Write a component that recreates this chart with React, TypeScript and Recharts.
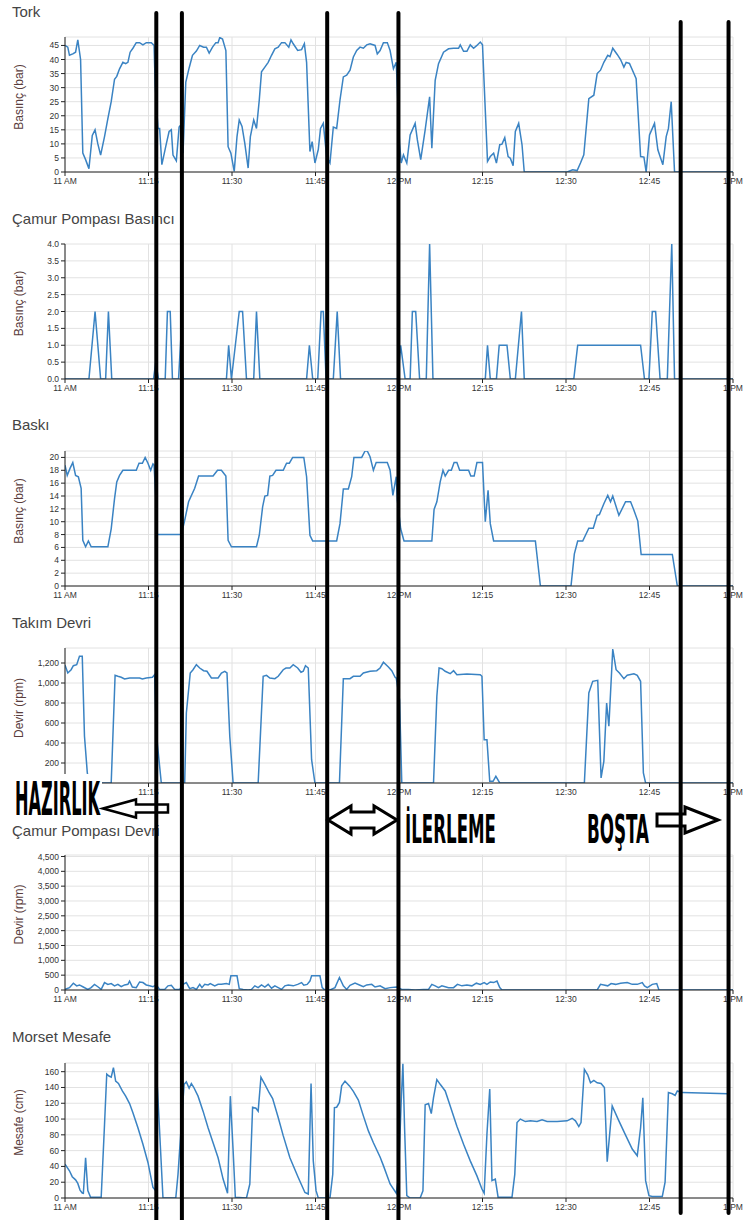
import { LineChart, Line, XAxis, YAxis, CartesianGrid } from "recharts";

// x axis: minutes after 11:00
const TIME_TICKS = [0, 15, 30, 45, 60, 75, 90, 105, 120];
const TIME_LABELS = ["11 AM", "11:15", "11:30", "11:45", "12 PM", "12:15", "12:30", "12:45", "1 PM"];

// phase boundaries drawn over the charts (minutes after 11:00)
const PHASE_LINES = [16.4, 21.0, 47.1, 59.9, 110.6, 119.2];

// [minute, value]
const TORK: [number, number][] = [
  [0, 45], [0.5, 44.4], [0.8, 41.5], [1.4, 42], [1.9, 42.6], [2.3, 47], [2.8, 40], [3.2, 6.7], [3.7, 4.4], [4.3, 1.2],
  [4.9, 13], [5.4, 15], [5.9, 10], [6.4, 6], [7.1, 12.6], [7.7, 19], [8.3, 25], [8.9, 33], [9.3, 34], [9.8, 36.7],
  [10.4, 39], [10.9, 38.5], [11.3, 39], [11.7, 42.6], [12.2, 44], [12.8, 46], [13.4, 46], [14.0, 45.2], [14.6, 46],
  [15.5, 46], [16.0, 45], [16.2, 31], [16.7, 15.5], [17.0, 15.5], [17.4, 2.6], [18.2, 10], [18.7, 14.4], [19.1, 15],
  [19.4, 6], [20.0, 4], [20.5, 16], [20.9, 17], [21.2, 6.7], [21.7, 32], [22.3, 37], [22.9, 41.5], [23.6, 43],
  [24.2, 45], [24.9, 44.4], [25.4, 44.4], [25.9, 42.3], [26.5, 44.4], [27.1, 46], [27.5, 46], [27.8, 47.8],
  [28.3, 47.3], [28.9, 43.2], [29.3, 9], [29.8, 6.7], [30.4, 0.2], [30.9, 12.6], [31.3, 18.5], [31.8, 16.2],
  [32.3, 10.2], [32.9, 1.4], [33.3, 12.6], [33.9, 18.5], [34.4, 15.5], [34.9, 25.6], [35.3, 35.6], [35.9, 37.3],
  [36.5, 39], [37.1, 41.5], [37.7, 43.8], [38.3, 44.4], [38.9, 46], [39.5, 46], [40.2, 44.4], [40.6, 47], [41.0, 45.6],
  [41.8, 43.2], [42.5, 43.5], [43.0, 45.6], [43.4, 39], [44.0, 7.3], [44.4, 10.8], [44.9, 3.2], [45.5, 8], [45.9, 15.5],
  [46.4, 17.3], [47.0, 5.5], [47.6, 3.2], [48.2, 16], [48.8, 15.5], [49.4, 25.6], [50.0, 33.8], [50.6, 34.4],
  [51.2, 36.2], [51.8, 40.9], [52.4, 43.2], [53.0, 44.4], [53.6, 44], [54.2, 45.2], [54.8, 45.6], [55.7, 45],
  [56.1, 42], [56.6, 43.2], [57.2, 46], [57.9, 46], [58.4, 43.2], [59.0, 36.7], [59.5, 39], [59.6, 34.4], [60.1, 10.2],
  [60.4, 3.2], [60.8, 6.1], [61.4, 3.2], [62.0, 13.2], [62.9, 17.3], [63.3, 11.4], [63.9, 4.4], [64.7, 15], [65.5, 26.7],
  [65.9, 8.5], [66.5, 32.6], [67.1, 38.5], [68.0, 42.6], [68.9, 43.8], [69.8, 44], [70.7, 44], [71.0, 45.2],
  [71.6, 42.9], [72.2, 42.9], [72.8, 45.2], [73.4, 44], [74.0, 45], [74.6, 46.2], [75.0, 45.2], [75.5, 22], [75.9, 3.8],
  [76.4, 5.5], [77.0, 6.7], [77.5, 3.2], [78.1, 9.7], [78.5, 9.9], [79.0, 12.2], [79.6, 5.5], [80.0, 4.9], [80.5, 2.2],
  [80.9, 14.4], [81.5, 17.3], [82.1, 9.7], [82.5, 0], [90.2, 0], [91.2, 0.8], [92.0, 0.5], [92.6, 3.2], [93.2, 6.1],
  [94.1, 26.1], [95.0, 27.3], [95.6, 35], [96.2, 36.2], [96.8, 39], [97.5, 41.5], [97.9, 41], [98.4, 44], [99.2, 41.8],
  [99.8, 40], [100.4, 37.3], [100.8, 39], [101.4, 38.6], [102.2, 35], [102.6, 33.2], [103.4, 5.5], [104.0, 5.3],
  [104.4, 0], [105.0, 13.2], [105.9, 17.3], [106.5, 7.9], [106.9, 5.5], [107.4, 2.6], [108.0, 12.6], [108.4, 15.5],
  [108.9, 25], [109.5, 0], [120, 0],
];

const CAMUR_BASINC: [number, number][] = [
  [0, 0], [4.3, 0], [5.4, 2], [6.4, 0], [7.3, 0], [7.8, 2], [8.4, 0], [15.9, 0], [16.3, 0.5], [16.8, 0], [18.0, 0],
  [18.4, 2], [18.9, 2], [19.3, 0], [20.4, 0], [20.8, 1.2], [21.2, 0], [29.0, 0], [29.4, 1], [29.9, 0], [31.3, 2],
  [31.9, 2], [32.6, 0], [33.9, 0], [34.4, 2], [35.0, 0], [43.4, 0], [43.9, 1], [44.5, 0], [45.4, 0], [46.0, 2],
  [46.4, 2], [46.9, 0], [48.2, 0], [48.9, 2], [49.5, 0], [59.8, 0], [60.3, 1], [61.1, 0], [62.0, 0], [62.4, 2],
  [63.0, 2], [63.7, 0], [64.9, 0], [65.5, 4], [66.1, 0], [75.5, 0], [75.9, 1], [76.4, 0], [77.5, 0], [78.0, 1],
  [79.4, 1], [80.0, 0], [80.9, 0], [82.0, 2], [82.5, 0], [91.4, 0], [92.1, 1], [103.4, 1], [104.1, 0], [104.9, 0],
  [105.5, 2], [106.1, 2], [106.9, 0], [108.2, 0], [109.0, 4], [109.5, 0], [120, 0],
];

const BASKI: [number, number][] = [
  [0, 18.8], [0.4, 17.2], [0.9, 18.3], [1.4, 19.2], [1.9, 17.2], [2.4, 17], [2.9, 15.2], [3.2, 7.1], [3.7, 6.1],
  [4.2, 7], [4.7, 6.1], [7.7, 6.1], [8.3, 8.9], [8.9, 13.6], [9.3, 16.2], [9.8, 17.2], [10.4, 18], [12.8, 18],
  [13.3, 19.1], [13.9, 19.1], [14.4, 20], [14.9, 19.1], [15.4, 18], [15.8, 19], [16.0, 18.8], [16.3, 13.9], [16.5, 8],
  [20.9, 8], [21.5, 10.2], [22.2, 13.1], [23.3, 15.2], [24.0, 17.1], [26.6, 17.1], [27.4, 18], [28.1, 18], [28.9, 17.1],
  [29.3, 7.1], [29.9, 6.1], [34.4, 6.1], [34.9, 7.9], [35.5, 12.3], [35.9, 14], [36.4, 14.1], [36.8, 17.1],
  [37.3, 17.2], [37.9, 18], [39.2, 18], [39.8, 19.1], [40.3, 19.1], [40.9, 20], [42.9, 20], [43.4, 17], [44.0, 7.9],
  [44.5, 7], [48.8, 7], [49.4, 9.7], [50.0, 15.1], [50.9, 15.1], [51.5, 17], [51.9, 20], [53.3, 20], [53.9, 21],
  [54.3, 21], [54.8, 20.1], [55.4, 18], [55.9, 19.2], [57.9, 19.2], [58.4, 18], [58.9, 14.1], [59.5, 17], [59.7, 13.4],
  [60.3, 8.9], [60.9, 7], [65.9, 7], [66.3, 11.9], [66.8, 13.1], [67.4, 16.2], [67.9, 18], [68.3, 17.1], [68.9, 18],
  [69.4, 18], [69.9, 19.2], [70.4, 19.2], [70.9, 18], [72.5, 18], [72.9, 17.1], [73.5, 17.1], [74.0, 19.2],
  [75.0, 19.2], [75.5, 10], [76.0, 14.9], [76.4, 9.7], [77.0, 7], [84.5, 7], [85.4, 0], [90.9, 0], [91.5, 5],
  [92.1, 7], [93.0, 7], [94.1, 9], [94.9, 9], [95.6, 11], [96.0, 11.1], [96.8, 12.8], [97.5, 14.1], [98.0, 13.1],
  [98.4, 14], [99.5, 11], [100.7, 13.1], [101.6, 13.1], [102.2, 11.8], [102.9, 10.1], [103.5, 4.9], [109.1, 4.9],
  [110.0, 0], [120, 0],
];

const TAKIM_DEVRI: [number, number][] = [
  [0, 1180], [0.5, 1100], [1.1, 1133], [1.5, 1173], [2.1, 1183], [2.6, 1267], [3.1, 1267], [3.5, 467], [4.0, 107],
  [4.3, 0], [8.3, 0], [9.0, 1077], [9.5, 1067], [10.1, 1057], [10.7, 1040], [11.6, 1050], [13.4, 1050], [13.9, 1040],
  [14.6, 1050], [15.7, 1057], [16.1, 1083], [16.4, 500], [17.3, 0], [21.5, 0], [21.8, 700], [22.5, 1100], [23.0, 1133],
  [23.6, 1183], [24.2, 1150], [24.9, 1123], [25.5, 1117], [26.3, 1050], [27.5, 1050], [28.1, 1100], [28.7, 1117],
  [29.1, 1100], [29.6, 467], [30.2, 0], [34.7, 0], [35.6, 1067], [36.2, 1077], [36.8, 1050], [37.7, 1043], [38.3, 1067],
  [39.2, 1133], [39.7, 1150], [40.4, 1150], [41.0, 1183], [41.8, 1150], [42.4, 1107], [42.8, 1117], [43.2, 1173],
  [43.7, 1150], [44.3, 233], [44.9, 0], [49.3, 0], [50.0, 1043], [51.2, 1043], [51.8, 1067], [53.0, 1067],
  [53.6, 1100], [54.8, 1117], [56.0, 1123], [56.6, 1150], [57.2, 1207], [58.1, 1160], [58.7, 1123], [59.3, 1057],
  [59.5, 1050], [60.1, 833], [60.5, 0], [66.2, 0], [66.8, 867], [67.2, 1150], [67.7, 1143], [68.3, 1117], [69.2, 1093],
  [69.8, 1123], [70.4, 1083], [72.2, 1090], [74.6, 1083], [74.9, 1067], [75.3, 433], [75.8, 433], [76.3, 17],
  [76.9, 17], [77.4, 67], [78.1, 0], [93.3, 0], [94.1, 900], [94.8, 1017], [95.7, 1027], [96.3, 50], [96.8, 217],
  [97.3, 800], [97.7, 567], [98.4, 1340], [99.0, 1133], [99.6, 1100], [100.4, 1043], [101.0, 1077], [102.2, 1093],
  [102.8, 1077], [103.4, 1017], [103.9, 100], [104.3, 0], [120, 0],
];

const CAMUR_DEVRI: [number, number][] = [
  [0, 20], [0.8, 80], [1.5, 230], [2.1, 140], [2.6, 170], [3.2, 110], [4.1, 20], [4.7, 80], [5.3, 190], [5.9, 110],
  [6.5, 20], [7.1, 250], [7.7, 190], [8.3, 215], [8.9, 140], [9.5, 190], [10.1, 110], [10.7, 170], [11.3, 190],
  [11.6, 300], [12.1, 100], [12.8, 80], [13.4, 270], [14.0, 250], [14.6, 170], [15.2, 140], [15.8, 110], [16.4, 170],
  [17.0, 20], [17.9, 20], [18.5, 140], [19.1, 160], [19.7, 20], [20.6, 20], [21.2, 190], [21.8, 250], [22.4, 45],
  [23.0, 80], [23.6, 20], [24.2, 190], [24.6, 80], [25.1, 190], [25.7, 170], [26.1, 215], [26.9, 140], [27.5, 190],
  [28.1, 190], [29.0, 215], [29.5, 190], [29.8, 480], [30.9, 480], [31.3, 45], [32.0, 20], [32.9, 0], [33.5, 20],
  [34.1, 140], [34.7, 80], [35.3, 170], [35.9, 100], [36.5, 190], [37.1, 60], [37.7, 140], [38.3, 80], [38.9, 20],
  [39.5, 140], [40.1, 170], [41.0, 140], [41.8, 190], [42.5, 250], [42.9, 160], [43.5, 190], [44.0, 300], [44.3, 480],
  [45.8, 480], [46.2, 80], [46.7, 0], [47.6, 0], [48.5, 80], [49.3, 420], [50.0, 140], [50.6, 20], [51.2, 160],
  [52.1, 230], [53.0, 160], [53.6, 110], [54.2, 170], [55.1, 190], [55.7, 100], [56.6, 140], [57.5, 45], [58.4, 80],
  [59.6, 100], [60.5, 20], [61.7, 20], [62.9, 0], [64.4, 20], [65.3, 20], [65.9, 190], [66.5, 140], [67.1, 80],
  [67.7, 140], [68.3, 110], [68.9, 80], [69.8, 80], [70.5, 190], [71.3, 140], [72.2, 170], [73.1, 140], [73.9, 230],
  [74.6, 190], [75.3, 250], [75.8, 190], [76.4, 270], [77.0, 250], [77.6, 300], [78.1, 80], [78.5, 0], [95.6, 0],
  [96.2, 190], [96.8, 170], [97.5, 140], [98.1, 215], [98.9, 190], [99.8, 230], [101.0, 250], [101.9, 190],
  [102.8, 190], [103.7, 250], [104.1, 140], [104.6, 80], [105.5, 190], [106.3, 215], [106.7, 0], [120, 0],
];

const MORSET: [number, number][] = [
  [0, 43], [0.8, 34.5], [1.3, 27], [1.9, 23], [2.3, 18.5], [2.7, 10], [3.1, 6.3], [3.3, 5.9], [3.7, 51], [4.1, 9.3],
  [4.6, 0.8], [6.5, 0.8], [7.1, 93], [7.5, 157], [7.9, 154.5], [8.3, 153], [8.7, 165], [9.1, 148], [9.6, 145],
  [10.3, 135.6], [10.9, 129], [11.6, 119.6], [12.2, 108], [13.1, 89], [14.0, 68], [14.9, 45], [15.8, 13.5], [16.3, 9.3],
  [16.6, 140], [17.6, 0], [19.9, 0], [20.3, 30], [20.9, 93], [21.4, 144], [21.8, 147], [22.3, 139], [22.7, 145],
  [23.1, 140.6], [23.9, 129], [24.8, 110], [25.7, 89], [26.6, 70], [27.5, 51], [28.4, 24], [29.2, 6], [29.7, 129],
  [30.2, 60], [30.6, 0.8], [32.6, 0], [33.2, 17.7], [33.7, 115], [34.3, 113.7], [34.7, 110], [35.2, 153], [35.9, 144],
  [36.7, 133], [37.3, 126], [38.3, 102], [39.2, 79], [40.4, 51], [41.9, 26], [43.1, 7], [43.7, 5], [44.2, 145],
  [44.6, 47], [45.1, 9.3], [45.5, 0], [47.6, 0], [48.1, 30], [48.4, 114.5], [48.8, 115], [49.3, 121], [49.7, 142],
  [50.3, 148], [51.1, 142], [51.8, 135], [52.7, 124], [53.6, 104], [54.5, 85], [55.4, 70], [56.6, 52], [57.2, 41],
  [58.4, 17.7], [59.5, 6], [59.9, 26], [60.4, 123], [60.7, 170], [61.0, 89], [61.4, 3], [62.0, 0], [63.8, 0], [64.3, 9],
  [64.7, 118], [65.3, 119.6], [65.8, 107], [66.2, 127], [66.8, 150], [67.4, 144], [68.3, 135.6], [69.2, 116.6],
  [70.4, 91], [71.6, 68], [72.8, 47], [74.0, 28], [74.9, 11.4], [75.3, 6], [75.8, 81], [76.3, 138], [76.7, 22],
  [77.3, 24], [77.8, 1], [80.3, 1], [80.8, 30], [81.2, 95.6], [81.8, 100], [82.7, 96.8], [83.6, 97.7], [84.8, 96.8],
  [85.7, 99], [86.6, 96.8], [88.4, 96.8], [90.2, 97.7], [91.1, 101], [91.7, 97.7], [92.3, 90.5], [92.7, 95.6],
  [93.3, 163], [93.9, 156], [94.4, 146], [95.0, 149], [95.6, 146], [96.3, 145], [96.9, 140], [97.4, 46], [98.3, 116.6],
  [99.5, 97.7], [100.7, 79.6], [101.9, 62], [102.8, 53.5], [103.4, 89], [103.8, 127], [104.3, 22], [104.9, 3],
  [105.5, 2], [107.3, 2], [107.8, 20], [108.4, 133.5], [109.1, 132], [109.6, 130], [110.0, 135.6], [110.9, 133.5],
  [119.2, 132],
];

const W = 745;
const H = 1220;
const PLOT_LEFT = 65;
const PLOT_RIGHT = 733;
const PLOT_H = 135;
const M_TOP = 6;
const X_AXIS_H = 24;
const LINE_COLOR = "#3a83c3";
const FONT = "'Liberation Sans', Arial, Helvetica, sans-serif";
const NARROW = "'Liberation Sans Narrow', 'DejaVu Sans Condensed', 'Liberation Sans', sans-serif";

const fmtComma = (v: number) => v.toLocaleString("en-US");
const plain = (v: number) => String(v);

// hideFirstX: the first x label of that panel is covered by the HAZIRLIK label in the source
const panels = [
  { title: "Tork", unit: "Basınç (bar)", data: TORK, top: 37, titleY: 17, domain: [0, 48], ticks: [0, 5, 10, 15, 20, 25, 30, 35, 40, 45], fmt: plain, hideFirstX: false },
  { title: "Çamur Pompası Basıncı", unit: "Basınç (bar)", data: CAMUR_BASINC, top: 243.5, titleY: 224, domain: [0, 4], ticks: [0, 0.5, 1, 1.5, 2, 2.5, 3, 3.5, 4], fmt: (v: number) => v.toFixed(1), hideFirstX: false },
  { title: "Baskı", unit: "Basınç (bar)", data: BASKI, top: 451, titleY: 430, domain: [0, 21], ticks: [0, 2, 4, 6, 8, 10, 12, 14, 16, 18, 20], fmt: plain, hideFirstX: false },
  { title: "Takım Devri", unit: "Devir (rpm)", data: TAKIM_DEVRI, top: 648, titleY: 628, domain: [0, 1350], ticks: [200, 400, 600, 800, 1000, 1200], fmt: fmtComma, hideFirstX: true },
  { title: "Çamur Pompası Devri", unit: "Devir (rpm)", data: CAMUR_DEVRI, top: 854.5, titleY: 836, domain: [0, 4550], ticks: [0, 500, 1000, 1500, 2000, 2500, 3000, 3500, 4000, 4500], fmt: fmtComma, hideFirstX: false },
  { title: "Morset Mesafe", unit: "Mesafe (cm)", data: MORSET, top: 1062.5, titleY: 1042, domain: [0, 171], ticks: [0, 20, 40, 60, 80, 100, 120, 140, 160], fmt: plain, hideFirstX: false },
];

const xOf = (t: number) => PLOT_LEFT + (t / 120) * (PLOT_RIGHT - PLOT_LEFT);

// arrow outlines (annotation shapes)
const leftArrow = (tip: number, tail: number, cy: number, hl: number, hh: number, sh: number) =>
  [[tip, cy], [tip + hl, cy - hh], [tip + hl, cy - sh], [tail, cy - sh], [tail, cy + sh], [tip + hl, cy + sh], [tip + hl, cy + hh]]
    .map((p) => p.join(",")).join(" ");
const rightArrow = (tail: number, tip: number, cy: number, hl: number, hh: number, sh: number) =>
  [[tip, cy], [tip - hl, cy - hh], [tip - hl, cy - sh], [tail, cy - sh], [tail, cy + sh], [tip - hl, cy + sh], [tip - hl, cy + hh]]
    .map((p) => p.join(",")).join(" ");
const doubleArrow = (x0: number, x1: number, cy: number, hl: number, hh: number, sh: number) =>
  [[x0, cy], [x0 + hl, cy - hh], [x0 + hl, cy - sh], [x1 - hl, cy - sh], [x1 - hl, cy - hh], [x1, cy],
   [x1 - hl, cy + hh], [x1 - hl, cy + sh], [x0 + hl, cy + sh], [x0 + hl, cy + hh]]
    .map((p) => p.join(",")).join(" ");

function Panel({ p }: { p: (typeof panels)[number] }) {
  const data = p.data.map(([t, v]) => ({ t, v }));
  const tickStyle = { fontSize: 8.5, fill: "#333", fontFamily: FONT };
  return (
    <div style={{ position: "absolute", left: 0, top: p.top - M_TOP }}>
      <LineChart
        width={W}
        height={M_TOP + PLOT_H + X_AXIS_H}
        data={data}
        margin={{ top: M_TOP, right: W - PLOT_RIGHT, bottom: 0, left: 0 }}
      >
        <CartesianGrid stroke="#e2e2e2" />
        <XAxis
          dataKey="t"
          type="number"
          domain={[0, 120]}
          ticks={TIME_TICKS}
          interval={0}
          tickFormatter={(v: number) => (p.hideFirstX && v === 0 ? "" : TIME_LABELS[TIME_TICKS.indexOf(v)])}
          height={X_AXIS_H}
          tickSize={4}
          tick={tickStyle}
          stroke="#222"
          allowDataOverflow
        />
        <YAxis
          type="number"
          domain={p.domain}
          ticks={p.ticks}
          interval={0}
          width={PLOT_LEFT}
          tickSize={4}
          tickFormatter={p.fmt}
          tick={tickStyle}
          stroke="#222"
          allowDataOverflow
        />
        <Line type="linear" dataKey="v" stroke={LINE_COLOR} strokeWidth={1.5} dot={false} isAnimationActive={false} />
      </LineChart>
    </div>
  );
}

export default function App() {
  return (
    <div style={{ position: "absolute", left: 0, top: 0, width: W, height: H, background: "#fff", overflow: "hidden" }}>
      {panels.map((p) => (
        <Panel key={p.title} p={p} />
      ))}
      <svg width={W} height={H} style={{ position: "absolute", left: 0, top: 0, pointerEvents: "none" }}>
        {panels.map((p) => (
          <text key={"t" + p.title} x={12} y={p.titleY} fontSize={15} fill="#444" fontFamily={FONT}>
            {p.title}
          </text>
        ))}
        {panels.map((p) => (
          <text
            key={"u" + p.title}
            x={23}
            y={p.top + 60}
            transform={`rotate(-90 23 ${p.top + 60})`}
            textAnchor="middle"
            fontSize={12}
            fill="#5a3d3d"
            fontFamily={FONT}
          >
            {p.unit}
          </text>
        ))}

        {/* HAZIRLIK label sits on a white patch */}
        <rect x={0} y={774} width={102} height={46} fill="#fff" />
        <polygon points={leftArrow(103, 168, 808.5, 33, 9, 4)} fill="#fff" stroke="#000" strokeWidth={2.5} />
        <polygon points={doubleArrow(328, 397, 820, 23, 14, 8)} fill="#fff" stroke="#000" strokeWidth={3} />
        <polygon points={rightArrow(657, 718, 820, 33, 13, 6)} fill="#fff" stroke="#000" strokeWidth={3} />

        {PHASE_LINES.map((t, i) => (
          <line
            key={i}
            x1={xOf(t)}
            x2={xOf(t)}
            y1={i < 4 ? 13 : 22}
            y2={i < 4 ? 1222 : 1213}
            stroke="#000"
            strokeWidth={4}
            strokeLinecap="round"
          />
        ))}

        <g fontFamily={NARROW} fontWeight={700} fill="#000" stroke="#fff" strokeWidth={1.5} paintOrder="stroke">
          <text x={15} y={815} fontSize={46} textLength={85} lengthAdjust="spacingAndGlyphs">HAZIRLIK</text>
          <text x={405} y={843} fontSize={39} textLength={91} lengthAdjust="spacingAndGlyphs">İLERLEME</text>
          <text x={587} y={843} fontSize={39} textLength={62} lengthAdjust="spacingAndGlyphs">BOŞTA</text>
        </g>
      </svg>
    </div>
  );
}
